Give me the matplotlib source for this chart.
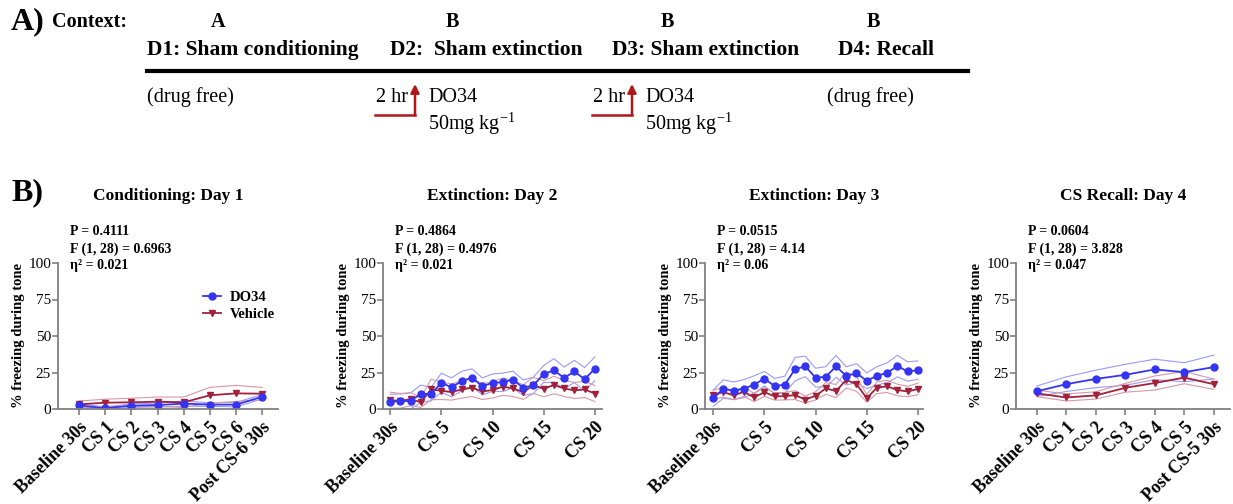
import numpy as np
import matplotlib
matplotlib.use('Agg')
import matplotlib.pyplot as plt

plt.rcParams['font.family'] = ['Liberation Serif', 'DejaVu Serif']

W, H = 1233, 504

# ---- data (% freezing, mean and SEM) ----
d1_labels = ['Baseline 30s', 'CS 1', 'CS 2', 'CS 3', 'CS 4', 'CS 5', 'CS 6', 'Post CS-6 30s']
d1_do34 = [2.5, 0.5, 2.3, 2.7, 3.7, 3.0, 3.0, 8.4]
d1_do34_sem = [1.2, 0.8, 1.2, 1.3, 1.8, 1.2, 1.5, 1.5]
d1_veh = [3.2, 4.3, 4.6, 5.0, 4.6, 9.4, 10.7, 10.5]
d1_veh_sem = [2.3, 2.4, 2.8, 3.2, 3.6, 5.4, 5.5, 4.2]

d2_ticks = [0, 5, 10, 15, 20]
d2_labels = ['Baseline 30s', 'CS 5', 'CS 10', 'CS 15', 'CS 20']
d2_do34 = [5.1, 5.3, 5.6, 10.4, 10.2, 18.0, 14.8, 19.2, 21.5, 15.5, 18.0,
           18.3, 20.1, 14.6, 16.2, 24.0, 26.4, 21.3, 25.7, 20.4, 27.5]
d2_do34_sem = [5.0, 5.0, 5.5, 6.0, 4.6, 6.5, 6.5, 6.7, 6.0, 5.8, 6.0,
               6.3, 5.8, 5.3, 5.6, 5.8, 8.1, 7.4, 7.6, 8.0, 8.1]
d2_veh = [6.0, 5.6, 6.7, 4.6, 13.4, 12.5, 11.6, 13.4, 14.6, 12.0, 13.0,
          15.3, 14.1, 11.6, 16.2, 13.9, 16.4, 14.1, 12.7, 13.4, 10.6]
d2_veh_sem = [5.5, 5.0, 4.5, 3.5, 7.0, 6.0, 5.5, 6.0, 6.0, 5.5, 5.5,
              6.0, 5.5, 5.0, 5.5, 5.5, 6.0, 5.5, 5.5, 5.5, 5.5]

d3_ticks = [0, 5, 10, 15, 20]
d3_labels = ['Baseline 30s', 'CS 5', 'CS 10', 'CS 15', 'CS 20']
d3_do34 = [7.4, 13.7, 12.5, 13.9, 16.7, 20.8, 15.7, 16.7, 27.3, 29.2, 21.5,
           22.0, 29.2, 22.7, 24.5, 19.4, 22.7, 24.8, 29.4, 25.7, 26.6]
d3_do34_sem = [5.6, 6.3, 6.0, 6.2, 6.0, 5.0, 5.2, 5.8, 8.0, 7.0, 6.4,
               7.0, 7.5, 6.2, 6.5, 5.4, 6.3, 6.8, 7.4, 6.6, 6.3]
d3_veh = [9.7, 11.6, 9.3, 11.8, 7.9, 11.6, 8.6, 8.8, 9.5, 6.5, 9.0,
          14.1, 12.3, 19.9, 17.1, 7.4, 14.6, 15.5, 13.0, 12.0, 13.7]
d3_veh_sem = [3.0, 3.5, 3.0, 3.2, 2.8, 3.0, 2.5, 2.6, 3.0, 2.4, 2.8,
              4.0, 4.5, 5.5, 5.0, 2.6, 4.0, 4.2, 4.0, 3.5, 4.0]

d4_labels = ['Baseline 30s', 'CS 1', 'CS 2', 'CS 3', 'CS 4', 'CS 5', 'Post CS-5 30s']
d4_do34 = [12.1, 17.0, 20.6, 23.4, 27.1, 25.2, 28.7]
d4_do34_sem = [3.6, 5.0, 6.0, 7.2, 7.0, 6.5, 8.2]
d4_veh = [10.7, 7.9, 9.3, 14.5, 17.8, 21.5, 17.0]
d4_veh_sem = [2.2, 2.4, 2.5, 3.0, 4.8, 4.2, 3.5]

titles = ['Conditioning: Day 1', 'Extinction: Day 2', 'Extinction: Day 3', 'CS Recall: Day 4']
stats = [('P = 0.4111', 'F (1, 28) = 0.6963', 'η² = 0.021'),
         ('P = 0.4864', 'F (1, 28) = 0.4976', 'η² = 0.021'),
         ('P = 0.0515', 'F (1, 28) = 4.14', 'η² = 0.06'),
         ('P = 0.0604', 'F (1, 28) = 3.828', 'η² = 0.047')]

BLUE = '#3434f2'
RED = '#a2213b'
BLUE_L = '#9a9af6'
RED_L = '#d499a6'
GRAY = '#808080'


def fx(x):
    return x / W


def fy(y):
    return 1 - y / H


fig = plt.figure(figsize=(W / 100, H / 100), dpi=100)

# ---------------- panel A: timeline ----------------
fig.text(fx(11), fy(22), 'A)', fontsize=23, fontweight='bold', va='center')
fig.text(fx(52), fy(22), 'Context:', fontsize=14.5, fontweight='bold', va='center')
for cx, c in zip([218, 452, 667, 873], ['A', 'B', 'B', 'B']):
    fig.text(fx(cx), fy(22), c, fontsize=14.5, fontweight='bold', va='center', ha='center')
for lx, t in zip([147, 390, 612, 838], ['D1: Sham conditioning', 'D2:  Sham extinction',
                                       'D3: Sham extinction', 'D4: Recall']):
    fig.text(fx(lx), fy(50), t, fontsize=15.5, fontweight='bold', va='center')
fig.add_artist(plt.Line2D([fx(147), fx(968)], [fy(71), fy(71)], color='black', lw=3))
fig.text(fx(147), fy(97), '(drug free)', fontsize=14.5, va='center')
fig.text(fx(827), fy(97), '(drug free)', fontsize=14.5, va='center')
for ax_x in [415, 632]:
    fig.text(fx(ax_x - 7), fy(97), '2 hr', fontsize=14.5, va='center', ha='right')
    fig.text(fx(ax_x + 13), fy(98), 'DO34', fontsize=14.5, va='center')
    fig.text(fx(ax_x + 13), fy(124), r'50mg kg$^{\mathregular{-1}}$', fontsize=14.5,
             va='center')
    fig.add_artist(plt.Line2D([fx(ax_x - 40), fx(ax_x)], [fy(115), fy(115)],
                              color='#b01818', lw=1.8))
    fig.add_artist(matplotlib.patches.FancyArrowPatch(
        (fx(ax_x), fy(115)), (fx(ax_x), fy(84)), transform=fig.transFigure,
        arrowstyle='-|>,head_length=5,head_width=2.5', color='#b01818', lw=1.8,
        shrinkA=0, shrinkB=0))

# ---------------- panel B: line charts ----------------
fig.text(fx(11), fy(193), 'B)', fontsize=23, fontweight='bold', va='center')

panels = [
    (58, 278, (-0.8, 7.6), list(range(8)), d1_labels, d1_do34, d1_do34_sem, d1_veh, d1_veh_sem),
    (383, 602, (-0.7, 20.7), d2_ticks, d2_labels, d2_do34, d2_do34_sem, d2_veh, d2_veh_sem),
    (705, 923, (-0.8, 20.5), d3_ticks, d3_labels, d3_do34, d3_do34_sem, d3_veh, d3_veh_sem),
    (1016, 1230, (-0.7, 6.55), list(range(7)), d4_labels, d4_do34, d4_do34_sem, d4_veh, d4_veh_sem),
]
top, bottom = 263, 409

for i, (l, r, xlim, ticks, labels, do, do_s, ve, ve_s) in enumerate(panels):
    ax = fig.add_axes([fx(l), fy(bottom), (r - l) / W, (bottom - top) / H])
    x = np.arange(len(do))
    do, do_s, ve, ve_s = map(np.array, (do, do_s, ve, ve_s))
    for m, s, c in [(do, do_s, BLUE_L), (ve, ve_s, RED_L)]:
        ax.plot(x, m + s, color=c, lw=0.8)
        ax.plot(x, m - s, color=c, lw=0.8)
    ax.plot(x, ve, color=RED, lw=1.3, marker='v', ms=5, label='Vehicle')
    ax.plot(x, do, color=BLUE, lw=1.3, marker='o', ms=5, label='DO34')
    ax.set_xlim(*xlim)
    ax.set_ylim(0, 100)
    ax.set_yticks([0, 25, 50, 75, 100])
    ax.set_xticks(ticks)
    ax.set_xticklabels(labels, rotation=45, ha='right', rotation_mode='anchor',
                       fontsize=13, fontweight='bold')
    ax.tick_params(axis='y', labelsize=11, color=GRAY, width=1.2, length=4, pad=1)
    ax.tick_params(axis='x', color=GRAY, width=1.2, length=4, pad=3)
    for sp in ['top', 'right']:
        ax.spines[sp].set_visible(False)
    for sp in ['left', 'bottom']:
        ax.spines[sp].set_color(GRAY)
        ax.spines[sp].set_linewidth(1.3)
    ax.set_ylabel('% freezing during tone', fontsize=10.5, fontweight='bold', labelpad=2)
    ax.patch.set_alpha(0)

    cx = (l + r) / 2
    fig.text(fx(cx), fy(196), titles[i], fontsize=12.5, fontweight='bold',
             ha='center', va='center')
    for j, line in enumerate(stats[i]):
        fig.text(fx(l + 12), fy(232 + 17 * j), line, fontsize=10, fontweight='bold',
                 va='center')

    if i == 0:
        h, lab = ax.get_legend_handles_labels()
        ax.legend(h[::-1], lab[::-1], loc='upper left', bbox_to_anchor=(0.6, 0.9),
                  frameon=False, prop={'weight': 'bold', 'size': 10.5},
                  handlelength=1.2, handletextpad=0.6, labelspacing=0.25)

fig.savefig('out.png', dpi=100)
